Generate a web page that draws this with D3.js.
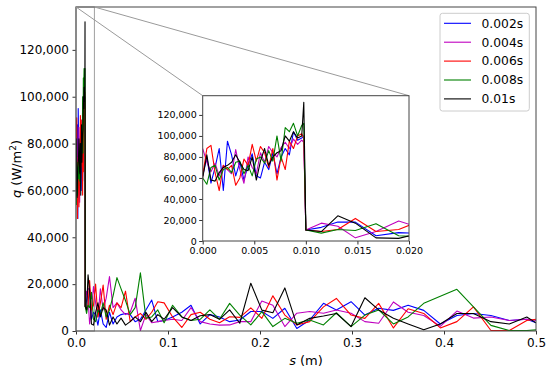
<!DOCTYPE html>
<html><head><meta charset="utf-8">
<script src="https://cdn.jsdelivr.net/npm/d3@7"></script>
<style>
body{margin:0;background:#fff}
svg{display:block}
text{font-family:"DejaVu Sans",sans-serif;fill:#000}
</style>
</head><body>
<svg id="c" width="550" height="373"></svg>
<script>
// ---- data ----
const sInner=[0,0.0004,0.0008,0.0012,0.0016,0.0020,0.0024,0.0028,0.0032,0.0036,0.0040,0.0044,0.0048,0.0052,0.0056,0.0060,0.0064,0.0068,0.0072,0.0076,0.0080,0.0084,0.0088,0.0092,0.0096,0.0098];
const sOuter=[0.0100,0.0115,0.0131,0.0148,0.0168,0.0190,0.0213,0.0238,0.0265,0.0295,0.0328,0.0364,0.0403,0.0445,0.0490,0.0538,0.0589,0.0643,0.0700,0.0760,0.0823,0.0889,0.0958,0.1050,0.1150,0.1250,0.1350,0.1455,0.1560,0.1670,0.1780,0.1900,0.2020,0.2140,0.2270,0.2400,0.2540,0.2690,0.2830,0.2990,0.3140,0.3290,0.3450,0.3610,0.3780,0.3960,0.4140,0.4320,0.4510,0.4710,0.4900,0.5000];
const seriesNames=["0.002s","0.004s","0.006s","0.008s","0.01s"];
const seriesColors=["#0000ff","#bf00bf","#ff0000","#008000","#000000"];
// heat flux q in kW/m^2 (thousands of W/m^2), inner region then outer region
const q002=[62,80,55,70,88,48,95,82,62,75,58,72,83,62,60,75,68,84,64,80,88,82,104,96,98,100,
 10.5,13,18,18,5,8,7,2.5,9,3,1.5,8,3,6,7,7.5,7,4,5,9,13.2,4,4.5,6,8,11,3,7,6,4,4.7,8.3,8.3,5.4,9.7,1.1,4.7,11.8,9,12.5,6.8,9.7,8.8,11,8.8,3,6.6,7.5,6.6,4.5,5,3.5];
const q004=[88,75,66,74,62,72,68,64,87,68,55,80,70,64,84,75,90,84,80,89,94,88,97,92,96,94,
 10.5,17,14,3,9,19,12,6,18,9,14,23.2,10,12,9,7,8,14,0.2,7,3.5,4,4.5,5,4.5,10,4,3,2.5,2.6,4,4,12.8,11,1.9,7.6,8.3,7.6,9,7.6,4,3.3,12.4,8,6.6,2,8.5,5.5,6,4.5,5,4.5];
const q006=[62,88,91,65,48,72,68,72,53,60,78,72,92,76,90,84,70,88,58,80,68,95,88,100,102,98,
 10.5,9,11,21.5,9,11,20,6,12,19.6,5,11,7,12,10,17,4,6,7.5,5,8,12.5,12,6,1.5,7,8,5,3.5,6.1,5.8,9.9,5.4,15,6.8,2.6,4,10.3,13.9,6.8,5.4,11.8,1.3,9.5,7.5,1.3,4,10.3,0.2,0.2,4.5,5];
const q008=[60,54,70,72,58,68,70,65,75,76,64,72,62,78,80,74,86,76,100,76,108,104,112,100,110,112,
 10.5,7.5,11,10,16.5,5,4,9,7,12,6,9,15,22.8,18,13,7,10,24.8,5.5,6,9,3.5,11,6,4.5,5,9,5,11.8,6.8,2.6,8.3,1.9,5.4,3.3,4.7,2.6,7.8,1.9,6.8,9,3,6,11.8,14.8,17.8,10.3,2.4,0.2,0.2,0.5];
const q010=[60,82,58,57,65,70,72,75,82,75,68,67,80,58,76,88,72,80,84,86,100,95,104,98,100,132,
 10.5,9,24,17,3,2.5,8,12,6,10,9,2.5,6,3,5.5,2.5,4,6,4,8,4,7,5,10,6,4.5,6.5,7,5,9,3.3,20.4,8.9,7.8,18.4,2.6,5.4,6.4,7.5,1.9,14.2,9,5.4,3,0.5,3,7.5,7.5,4,3,6,3.5];
const xTicksMain=[0,0.1,0.2,0.3,0.4,0.5];
const xTicksInset=[0,0.005,0.010,0.015,0.020];
const yTicks=[0,20000,40000,60000,80000,100000,120000];

// ---- build ----
const sAll=sInner.concat(sOuter);
const seriesVals=[q002,q004,q006,q008,q010];
const series=seriesNames.map((n,i)=>({name:n,color:seriesColors[i],
  pts:seriesVals[i].map((v,j)=>({s:sAll[j],q:v*1000}))}));

const svg=d3.select("#c");
const yMax=138300;
const x=d3.scaleLinear().domain([0,0.5]).range([76,536]);
const y=d3.scaleLinear().domain([0,yMax]).range([331,7]);
const xi=d3.scaleLinear().domain([0,0.02]).range([202.7,409]);
const yi=d3.scaleLinear().domain([0,yMax]).range([241,95.7]);

const defs=svg.append("defs");
defs.append("clipPath").attr("id","cm").append("rect")
  .attr("x",76).attr("y",7).attr("width",460).attr("height",324);
defs.append("clipPath").attr("id","ci").append("rect")
  .attr("x",202.7).attr("y",95.7).attr("width",206.3).attr("height",145.3);

// main axes
const gx=svg.append("g").attr("transform","translate(0,331)")
  .call(d3.axisBottom(x).tickValues(xTicksMain).tickFormat(d3.format(".1f")).tickSize(3.5).tickPadding(3.5));
const gy=svg.append("g").attr("transform","translate(76,0)")
  .call(d3.axisLeft(y).tickValues(yTicks).tickFormat(d3.format(",")).tickSize(3.5).tickPadding(3.5));
[gx,gy].forEach(g=>{g.select(".domain").remove();
  g.selectAll("text").attr("font-size",12).attr("font-family","DejaVu Sans");
  g.selectAll("line").attr("stroke","#333");});

// zoom indicator rect
svg.append("rect").attr("x",x(0)).attr("y",y(yMax)).attr("width",x(0.02)-x(0)).attr("height",y(0)-y(yMax))
  .attr("fill","none").attr("stroke","#a0a0a0").attr("stroke-width",1);

const line=(sx,sy)=>d3.line().x(d=>sx(d.s)).y(d=>sy(d.q));
const gm=svg.append("g").attr("clip-path","url(#cm)");
series.forEach(s=>gm.append("path").attr("d",line(x,y)(s.pts)).attr("fill","none")
  .attr("stroke",s.color).attr("stroke-width",1.1).attr("stroke-linejoin","round"));

// main frame
svg.append("rect").attr("x",76).attr("y",7).attr("width",460).attr("height",324)
  .attr("fill","none").attr("stroke","#444").attr("stroke-width",1);

// connectors
svg.append("line").attr("x1",x(0)).attr("y1",y(yMax)).attr("x2",xi(0)).attr("y2",yi(yMax))
  .attr("stroke","#9a9a9a").attr("stroke-width",1);
svg.append("line").attr("x1",x(0.02)).attr("y1",y(yMax)).attr("x2",xi(0.02)).attr("y2",yi(yMax))
  .attr("stroke","#9a9a9a").attr("stroke-width",1);

// inset
svg.append("rect").attr("x",202.7).attr("y",95.7).attr("width",206.3).attr("height",145.3).attr("fill","#fff");
const gi=svg.append("g").attr("clip-path","url(#ci)");
series.forEach(s=>gi.append("path").attr("d",line(xi,yi)(s.pts)).attr("fill","none")
  .attr("stroke",s.color).attr("stroke-width",1.1).attr("stroke-linejoin","round"));
const gix=svg.append("g").attr("transform","translate(0,241)")
  .call(d3.axisBottom(xi).tickValues(xTicksInset).tickFormat(d3.format(".3f")).tickSize(3.5).tickPadding(2.5));
const giy=svg.append("g").attr("transform","translate(202.7,0)")
  .call(d3.axisLeft(yi).tickValues(yTicks).tickFormat(d3.format(",")).tickSize(3.5).tickPadding(2.5));
[gix,giy].forEach(g=>{g.select(".domain").remove();
  g.selectAll("text").attr("font-size",9.5).attr("font-family","DejaVu Sans");
  g.selectAll("line").attr("stroke","#333");});
svg.append("rect").attr("x",202.7).attr("y",95.7).attr("width",206.3).attr("height",145.3)
  .attr("fill","none").attr("stroke","#444").attr("stroke-width",1);

// axis labels
const xl=svg.append("text").attr("x",306).attr("y",365).attr("text-anchor","middle").attr("font-size",13);
xl.append("tspan").attr("font-style","italic").text("s");
xl.append("tspan").text(" (m)");
const yl=svg.append("text").attr("transform","translate(21,169) rotate(-90)").attr("text-anchor","middle").attr("font-size",13);
yl.append("tspan").attr("font-style","italic").text("q");
yl.append("tspan").text(" (W/m");
yl.append("tspan").attr("font-size",9).attr("dy",-5).text("2");
yl.append("tspan").attr("dy",5).text(")");

// legend
svg.append("rect").attr("x",440).attr("y",13.3).attr("width",89.3).attr("height",97.7).attr("rx",2.5)
  .attr("fill","#fff").attr("fill-opacity",0.85).attr("stroke","#cccccc").attr("stroke-width",1);
series.forEach((s,i)=>{
  const yy=23.3+18.9*i;
  svg.append("line").attr("x1",444).attr("x2",471).attr("y1",yy).attr("y2",yy)
    .attr("stroke",s.color).attr("stroke-width",1.1);
  svg.append("text").attr("x",481.5).attr("y",yy).attr("dy","0.35em").attr("font-size",12.3).text(s.name);
});
</script>
</body></html>
